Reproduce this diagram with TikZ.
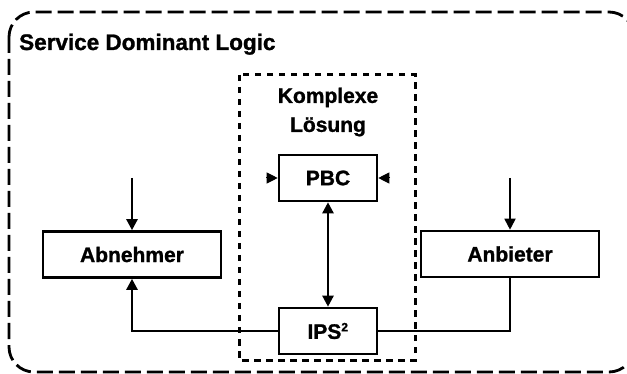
\documentclass[tikz,border=0pt]{standalone}
\usepackage{fontspec}
\setmainfont{Liberation Sans}[BoldFeatures={FakeBold=1.2}]
\usetikzlibrary{arrows.meta}
\begin{document}
\begin{tikzpicture}[x=1pt,y=-1pt,
  box/.style={draw,line width=2.6pt,fill=white,minimum width=98pt,minimum height=46pt,inner sep=0pt,
    font=\bfseries\fontsize{21}{25}\selectfont},
  widebox/.style={box,minimum width=178pt},
  conn/.style={line width=2.4pt},
  tip/.style={-{Triangle[length=11pt,width=11pt]}},
  bitip/.style={{Triangle[length=11pt,width=11pt]}-{Triangle[length=11pt,width=11pt]}},
  outerframe/.style={dash pattern=on 16pt off 6pt,line width=2.8pt,rounded corners=25pt},
  innerframe/.style={dash pattern=on 6.5pt off 5.5pt,line width=3pt}]
\useasboundingbox (0,0) rectangle (627,374);
\clip (0,0) rectangle (627,374);
% frames
\draw[outerframe] (9,12) rectangle (634,372);
\draw[innerframe] (239,75) rectangle (415,360);
% labels
\node[anchor=base west,inner sep=0pt,font=\bfseries\fontsize{22.5}{26}\selectfont] (sdl) at (19,50) {Service Dominant Logic};
\node[align=center,inner sep=0pt,font=\bfseries\fontsize{21}{29}\selectfont] (kl) at (328,112) {Komplexe\\Lösung};
% boxes
\node[box] (pbc) at (328,178) {PBC};
\node[box] (ips) at (328,331) {IPS\textsuperscript{\fontsize{12}{12}\selectfont 2}};
\node[widebox] (abn) at (132,254.5) {Abnehmer};
\node[widebox] (anb) at (510,254) {Anbieter};
% free ends
\coordinate (abnin) at (132,178);
\coordinate (anbin) at (510,178);
\coordinate (pbcl) at (266,178);
\coordinate (pbcr) at (390,178);
% connectors
\draw[conn,tip] (abnin) -- (abn.north);
\draw[conn,tip,line width=1.8pt] (anbin) -- (anb.north);
\draw[conn,bitip] (pbc.south) -- (ips.north);
\draw[conn,tip] (ips.west) -| (abn.south);
\draw[line width=1.6pt] (anb.south) |- (ips.east);
\draw[tip,line width=1pt] (pbcl) -- (pbc.west);
\draw[tip,line width=1pt] (pbcr) -- (pbc.east);
\end{tikzpicture}
\end{document}
